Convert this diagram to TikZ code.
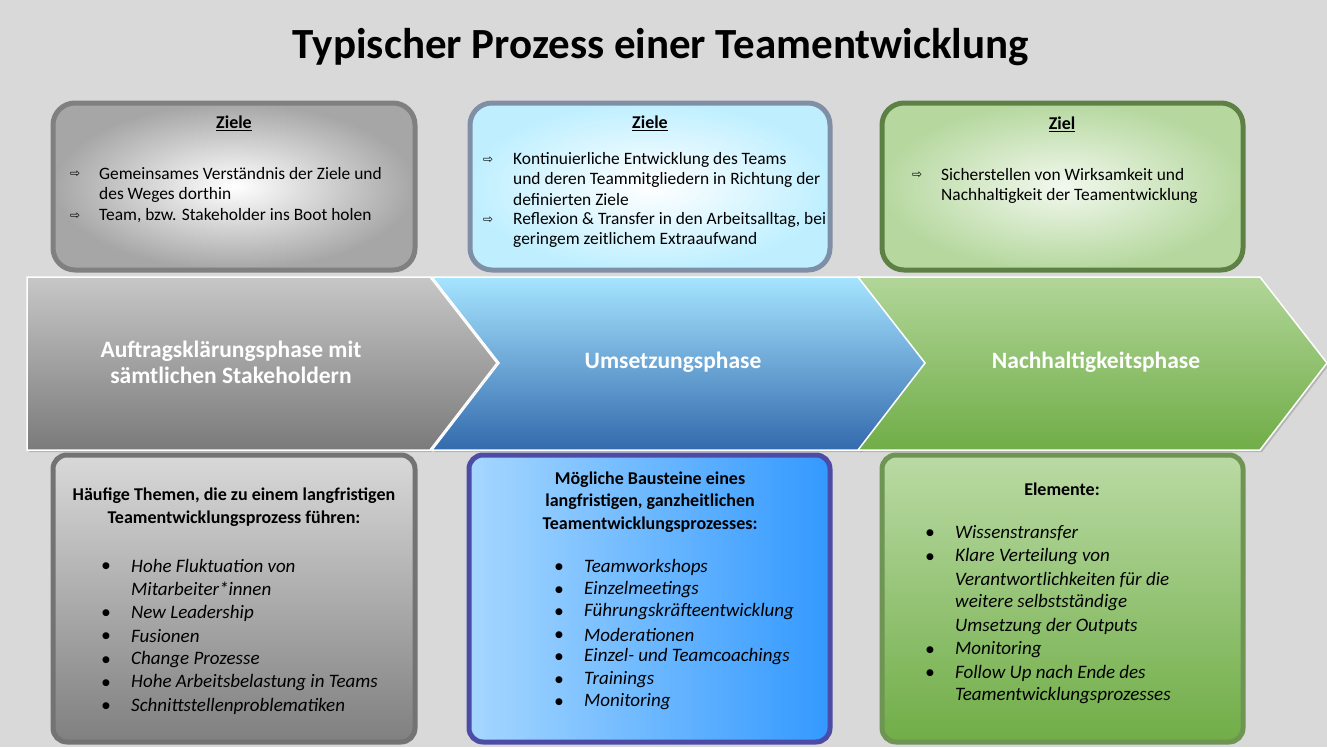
\documentclass[tikz,border=0pt]{standalone}
\usepackage{fontspec}
\setmainfont{Carlito}
\newfontfamily\symf{DejaVu Sans}
\usetikzlibrary{shadows}
\newcommand{\arr}{{\symf\fontsize{12}{14}\selectfont ⇨}}
\newcommand{\bul}{{\symf\fontsize{9}{14}\selectfont ●}}
\definecolor{bgray}{HTML}{7F8FA6}
\definecolor{lgreen}{HTML}{A9D18E}
\definecolor{mgreen}{HTML}{70AD47}
\definecolor{dgreen}{HTML}{548235}
\begin{document}
\begin{tikzpicture}[x=1pt,y=-1pt,
  box/.style={rounded corners=22pt,line width=5pt},
  txt/.style={anchor=west,inner sep=0pt,font=\fontsize{17.4}{20}\selectfont},
  itx/.style={anchor=west,inner sep=0pt,font=\fontsize{19}{20}\selectfont\itshape},
  hd/.style={inner sep=0pt,font=\fontsize{18}{23}\selectfont\bfseries,align=center},
  ph/.style={inner sep=0pt,text=white,font=\fontsize{23.5}{26}\selectfont\bfseries,align=center},
  arrw/.style={draw=white,line width=1.5pt,drop shadow={shadow xshift=2pt,shadow yshift=-2pt,opacity=0.4}}]
\fill[gray!30] (0,0) rectangle (1327,747);
\useasboundingbox (0,0) rectangle (1327,747);
\node[inner sep=0pt,font=\fontsize{43}{48}\selectfont\bfseries] (title) at (661,47) {Typischer Prozess einer Teamentwicklung};
% top boxes
\draw[box,draw=black!50,inner color=white,outer color=black!35] (53,103) rectangle (415,270);
\draw[box,draw=bgray,inner color=white,outer color=blue!25!cyan!25] (470,103) rectangle (830,270);
\draw[box,draw=dgreen!80!gray,inner color=lgreen!15,outer color=lgreen!85] (882,103) rectangle (1243,270);
\node[hd] (z1) at (234,123) {\underline{Ziele}};
\node[hd] (z2) at (650,123) {\underline{Ziele}};
\node[hd] (z3) at (1062,124) {\underline{Ziel}};
\node[txt] (a1) at (70,174) {\arr}; \node[txt] (t1) at (99,174) {Gemeinsames Verständnis der Ziele und};
\node[txt] (t2) at (99,195) {des Weges dorthin};
\node[txt] (a2) at (70,216) {\arr}; \node[txt] (t3) at (99,216) {Team, bzw. Stakeholder ins Boot holen};
\node[txt] (a3) at (483,160) {\arr}; \node[txt] (u1) at (513,160) {Kontinuierliche Entwicklung des Teams};
\node[txt] (u2) at (513,180) {und deren Teammitgliedern in Richtung der};
\node[txt] (u3) at (513,200) {definierten Ziele};
\node[txt] (a4) at (483,220) {\arr}; \node[txt] (u4) at (513,220) {Reflexion \& Transfer in den Arbeitsalltag, bei};
\node[txt] (u5) at (513,240) {geringem zeitlichem Extraaufwand};
\node[txt] (a5) at (912,175) {\arr}; \node[txt] (n1) at (941,175) {Sicherstellen von Wirksamkeit und};
\node[txt] (n2) at (941,196) {Nachhaltigkeit der Teamentwicklung};
% arrows
\draw[arrw,top color=black!22,bottom color=black!52] (27,277) -- (430,277) -- (497,363) -- (430,450) -- (27,450) -- cycle;
\draw[arrw,top color=blue!30!cyan!35,bottom color=blue!55!cyan!60!black!80] (432,277) -- (860,277) -- (927,363) -- (860,450) -- (432,450) -- (499,363) -- cycle;
\draw[arrw,top color=lgreen!90,bottom color=mgreen] (858,277) -- (1260,277) -- (1327,363) -- (1260,450) -- (858,450) -- (925,363) -- cycle;
\node[ph] (p1) at (231,362) {Auftragsklärungsphase mit\\sämtlichen Stakeholdern};
\node[ph] (p2) at (673,362) {Umsetzungsphase};
\node[ph] (p3) at (1096,362) {Nachhaltigkeitsphase};
% bottom boxes
\draw[box,rounded corners=14pt,draw=black!55,top color=black!15,bottom color=black!50] (53,455) rectangle (415,742);
\draw[box,rounded corners=14pt,draw=blue!50!black!70,left color=blue!45!cyan!35,right color=blue!50!cyan!80] (469,455) rectangle (830,742);
\draw[box,rounded corners=14pt,draw=dgreen!85,top color=lgreen!80,bottom color=mgreen] (882,455) rectangle (1243,742);
\node[hd] (h1) at (234,507) {Häufige Themen, die zu einem langfristigen\\Teamentwicklungsprozess führen:};
\node[hd,font=\fontsize{18}{22.5}\selectfont\bfseries] (h2) at (650,502) {Mögliche Bausteine eines\\langfristigen, ganzheitlichen\\Teamentwicklungsprozesses:};
\node[hd] (h3) at (1062,489) {Elemente:};
\foreach \y/\b/\t [count=\i] in {566/1/Hohe Fluktuation von,589/0/Mitarbeiter*innen,613/1/New Leadership,636/1/Fusionen,660/1/Change Prozesse,683/1/Hohe Arbeitsbelastung in Teams,706/1/Schnittstellenproblematiken}{
  \node[itx] (l\i) at (131,\y) {\t};
  \ifnum\b=1 \node[txt] (lb\i) at (102,\y) {\bul};\fi}
\foreach \y/\t [count=\i] in {567/Teamworkshops,590/Einzelmeetings,612/Führungskräfteentwicklung,635/Moderationen,657/Einzel- und Teamcoachings,680/Trainings,702/Monitoring}{
  \node[itx] (m\i) at (584,\y) {\t};
  \node[txt] (mb\i) at (555,\y) {\bul};}
\foreach \y/\b/\t [count=\i] in {533/1/Wissenstransfer,557/1/Klare Verteilung von,580/0/Verantwortlichkeiten für die,603/0/weitere selbstständige,627/0/Umsetzung der Outputs,650/1/Monitoring,673/1/Follow Up nach Ende des,696/0/Teamentwicklungsprozesses}{
  \node[itx] (r\i) at (955,\y) {\t};
  \ifnum\b=1 \node[txt] (rb\i) at (926,\y) {\bul};\fi}
\end{tikzpicture}
\end{document}
